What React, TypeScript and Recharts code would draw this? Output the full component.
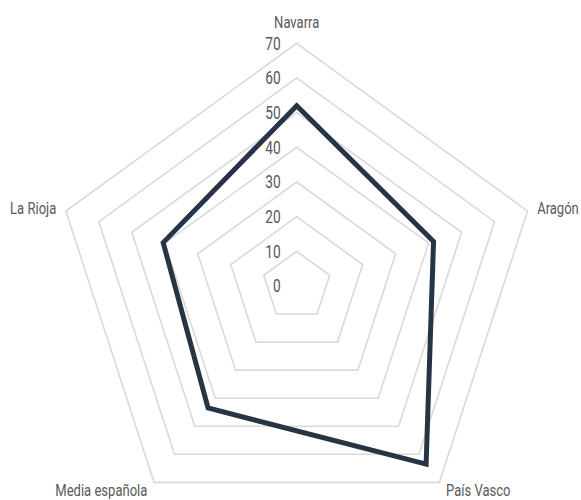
import React from 'react';
import { RadarChart, Radar, PolarGrid, PolarAngleAxis, PolarRadiusAxis } from 'recharts';

const categories = ['Navarra', 'Aragón', 'País Vasco', 'Media española', 'La Rioja'];
const values = [52, 41.5, 63.5, 43.5, 40.5];
const radiusTicks = [0, 10, 20, 30, 40, 50, 60, 70];

const data = categories.map((c, i) => ({ name: c, value: values[i] }));

const FONT = "Roboto, 'DejaVu Sans', sans-serif";
const CX = 296.7;
const CY = 286;

const AngleTick = (props: any) => {
  const { x, y, payload, textAnchor } = props;
  let dx = 0;
  let dy = 0;
  if (textAnchor === 'middle') dy = -13;
  else {
    dx = textAnchor === 'start' ? 2 : -2;
    dy = y > CY ? 2 : 0;
  }
  return (
    <g transform={`translate(${x + dx},${y + dy}) scale(0.79,1)`}>
      <text
        x={0}
        y={0}
        textAnchor={textAnchor}
        dominantBaseline="central"
        fill="#595959"
        fontSize={16.5}
        fontFamily={FONT}
      >
        {payload.value}
      </text>
    </g>
  );
};

const RadiusTick = (props: any) => {
  const { x, y, payload } = props;
  return (
    <g transform={`translate(${x - 16},${y}) scale(0.72,1)`}>
      <text
        x={0}
        y={0}
        textAnchor="end"
        dominantBaseline="central"
        fill="#595959"
        fontSize={19}
        fontFamily={FONT}
      >
        {payload.value}
      </text>
    </g>
  );
};

export default function App() {
  return (
    <div style={{ position: 'absolute', left: 0, top: 0, width: 581, height: 500, background: '#fff' }}>
      <RadarChart
        width={581}
        height={500}
        data={data}
        cx={CX}
        cy={CY}
        outerRadius={242.7}
        margin={{ top: 0, right: 0, bottom: 0, left: 0 }}
      >
        <PolarGrid gridType="polygon" radialLines={false} stroke="#d9d9d9" strokeWidth={1.6} />
        <PolarAngleAxis dataKey="name" tick={<AngleTick />} tickLine={false} axisLine={false} />
        <PolarRadiusAxis
          angle={90}
          domain={[0, 70]}
          ticks={radiusTicks as any}
          tickCount={8}
          axisLine={false}
          tick={<RadiusTick />}
        />
        <Radar
          dataKey="value"
          stroke="#263545"
          strokeWidth={5}
          fill="none"
          fillOpacity={0}
          dot={false}
          isAnimationActive={false}
        />
      </RadarChart>
    </div>
  );
}
